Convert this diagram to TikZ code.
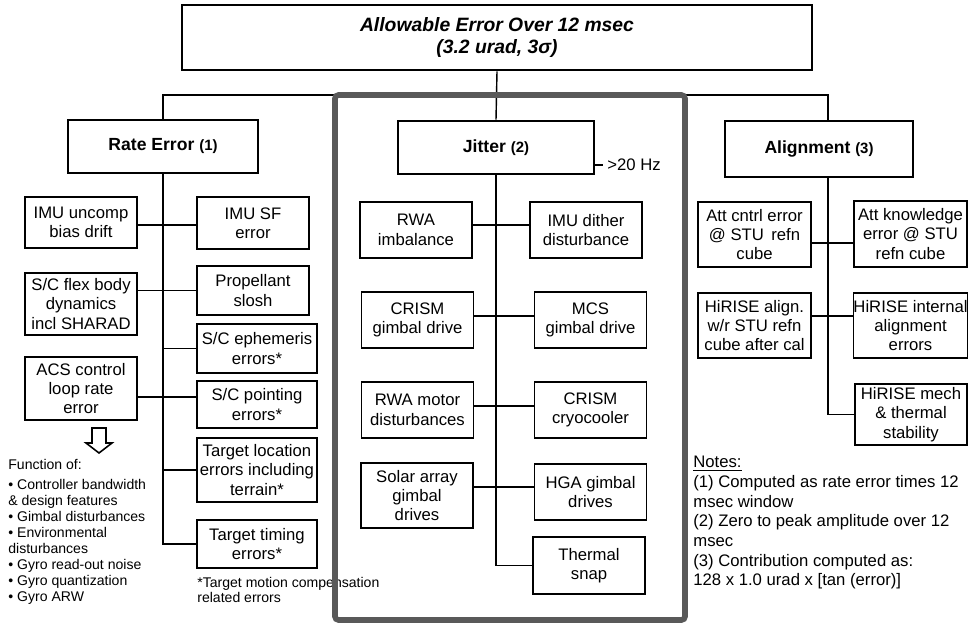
\documentclass[tikz,border=0pt]{standalone}
\usepackage{fontspec}
\setmainfont{Liberation Sans}
\usetikzlibrary{calc}
\tikzset{>=latex}
\tikzset{
	topbox/.style={draw, line width=1.6pt, align=center, inner sep=0pt, font=\fontsize{11}{13}\selectfont\bfseries\itshape},
	groupbox/.style={draw, line width=1.6pt, align=center, inner sep=0pt, minimum height=1.06cm, font=\fontsize{10}{12}\selectfont\bfseries},
	leaf/.style={draw, line width=0.9pt, align=center, inner sep=0pt, minimum width=2.24cm, font=\fontsize{9.5}{11}\selectfont},
	wideleaf/.style={leaf, minimum width=2.4cm},
	link/.style={line width=0.8pt},
	jitterframe/.style={draw=black!65, line width=3.2pt, rounded corners=2pt},
	plain/.style={inner sep=0pt, align=left, anchor=north west}
}

\begin{document}
\begin{tikzpicture}[x=0.02cm, y=-0.02cm]
	\useasboundingbox (0,0) rectangle (976,624);
	
	% top of the tree
	\node[topbox, minimum width=12.6cm, minimum height=1.3cm] (total) at (497,37.5) {Allowable Error Over 12 msec\\(3.2 urad, 3σ)};
	
	% the three branches
	\node[groupbox, minimum width=3.8cm] (rate) at (163,146.5) {Rate Error {\fontsize{8.5}{10}\selectfont(1)}};
	\node[groupbox, minimum width=3.92cm] (jitter) at (496,147.5) {Jitter {\fontsize{8.5}{10}\selectfont(2)}};
	\node[groupbox, minimum width=3.76cm, minimum height=1.12cm] (align) at (819,149) {Alignment {\fontsize{8.5}{10}\selectfont(3)}};
	\coordinate (busL) at (163,95); %left end of bus
	\coordinate (busR) at (828,95); %right end of bus
	\coordinate (alignFoot) at (828,177); %alignment trunk
	
	% rate error leaves
	\node[leaf, minimum height=1.02cm] (imuBias) at (81,222.5) {IMU uncomp\\bias drift};
	\node[leaf, minimum height=1.04cm] (imuSF) at (253,223) {IMU SF\\error};
	\node[leaf, minimum height=1.24cm] (flex) at (81,304) {S/C flex body\\dynamics\\incl SHARAD};
	\node[leaf, minimum height=0.98cm] (prop) at (253,290.5) {Propellant\\slosh};
	\node[wideleaf, minimum height=0.98cm] (scEph) at (257,348.5) {S/C ephemeris\\errors*};
	\node[leaf, minimum height=1.26cm] (acs) at (81,388.5) {ACS control\\loop rate\\error};
	\node[wideleaf, minimum height=0.94cm] (scPoint) at (257,404.5) {S/C pointing\\errors*};
	\node[wideleaf, minimum height=1.28cm] (tgtLoc) at (257,470) {Target location\\errors including\\terrain*};
	\node[wideleaf, minimum height=0.96cm] (tgtTime) at (257,544) {Target timing\\errors*};
	
	% jitter leaves
	\node[leaf, minimum height=1.12cm] (rwaImb) at (416,230) {RWA\\imbalance};
	\node[leaf, minimum height=1.12cm] (imuDither) at (586,230) {IMU dither\\disturbance};
	\node[leaf, minimum height=1.12cm] (crismGim) at (417.5,320) {CRISM\\gimbal drive};
	\node[leaf, minimum height=1.12cm] (mcs) at (590.5,320) {MCS\\gimbal drive};
	\node[leaf, minimum height=1.12cm] (rwaMotor) at (417.5,410) {RWA motor\\disturbances};
	\node[leaf, minimum height=1.12cm] (cryo) at (590.5,410) {CRISM\\cryocooler};
	\node[leaf, minimum height=1.3cm] (solar) at (417,495.5) {Solar array\\gimbal\\drives};
	\node[leaf, minimum height=1.12cm] (hga) at (590.5,492) {HGA gimbal\\drives};
	\node[leaf, minimum height=1.14cm] (thermal) at (589,565.5) {Thermal\\snap};
	\node[anchor=west, inner sep=0pt, font=\fontsize{9.5}{11}\selectfont] (hz) at (607,165) {>20 Hz};
	\coordinate (hzTick) at (603,165); %end of the little tick
	
	% alignment leaves
	\node[leaf, minimum width=2.26cm, minimum height=1.3cm] (attC) at (754.5,234.5) {Att cntrl error\\@ STU\, refn\\cube};
	\node[leaf, minimum width=2.26cm, minimum height=1.32cm] (attK) at (910.5,234) {Att knowledge\\error @ STU\\refn cube};
	\node[leaf, minimum width=2.26cm, minimum height=1.3cm] (hiAlign) at (754.5,325.5) {HiRISE align.\\w/r STU refn\\cube after cal};
	\node[leaf, minimum width=2.26cm, minimum height=1.3cm] (hiInt) at (910.5,325.5) {HiRISE internal\\alignment\\errors};
	\node[leaf, minimum height=1.22cm] (hiMech) at (911,414.5) {HiRISE mech\\\& thermal\\stability};
	
	% Drawing the tree
	\draw[link] (total.south) -- (jitter.north);
	\draw[link] (rate.north) -- (busL) -- (busR) -- (alignFoot |- align.north);
	\draw[link] (rate.south) |- (tgtTime.west);
	\draw[link] (imuBias.east |- 0,225) -- (imuSF.west |- 0,225);
	\draw[link] (flex.east |- prop.west) -- (prop.west);
	\draw[link] (scEph.west) -- (scEph.west -| rate.south);
	\draw[link] (acs.east |- 0,397) -- (scPoint.west |- 0,397);
	\draw[link] (tgtLoc.west) -- (tgtLoc.west -| rate.south);
	
	\draw[link] (jitter.south) |- (thermal.west);
	\draw[link] (rwaImb.east |- 0,225) -- (imuDither.west |- 0,225);
	\draw[link] (crismGim.east |- 0,316) -- (mcs.west |- 0,316);
	\draw[link] (rwaMotor.east |- 0,406) -- (cryo.west |- 0,406);
	\draw[link] (solar.east |- 0,487) -- (hga.west |- 0,487);
	\draw[link] (jitter.east |- hzTick) -- (hzTick);
	
	\draw[link] (alignFoot) |- (hiMech.west);
	\draw[link] (attC.east |- 0,243) -- (attK.west |- 0,243);
	\draw[link] (hiAlign.east |- 0,316) -- (hiInt.west |- 0,316);
	
	% hollow arrow under the ACS box
	\draw[line width=0.9pt] (92,428) -- (106,428) -- (106,443) -- (112,443) -- (99,453) -- (86,443) -- (92,443) -- cycle;
	
	% Extra text
	\node[plain, font=\fontsize{8}{9}\selectfont] (funcOf) at (8,459) {Function of:};
	\node[plain, font=\fontsize{8}{9.1}\selectfont] (funcList) at (8,479) {\textbullet\ Controller bandwidth\\\& design features\\\textbullet\ Gimbal disturbances\\\textbullet\ Environmental\\disturbances\\\textbullet\ Gyro read-out noise\\\textbullet\ Gyro quantization\\\textbullet\ Gyro ARW};
	\node[plain, font=\fontsize{8}{8.6}\selectfont] (footnote) at (197,577) {*Target motion compensation\\related errors};
	\node[plain, font=\fontsize{9.5}{11.2}\selectfont] (notes) at (693,456) {\underline{Notes:}\\(1) Computed as rate error times 12\\msec window\\(2) Zero to peak amplitude over 12\\msec\\(3) Contribution computed as:\\128 x 1.0 urad x [tan (error)]};
	
	% frame round the jitter branch
	\draw[jitterframe] (335,95) rectangle (685,620);
\end{tikzpicture}
\end{document}
